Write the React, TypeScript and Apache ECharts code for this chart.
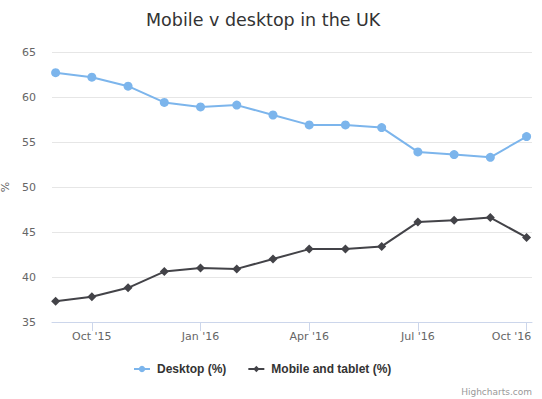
import React, { useEffect, useRef } from "react";
import * as echarts from "echarts";

const months = [
  "Sep '15", "Oct '15", "Nov '15", "Dec '15", "Jan '16", "Feb '16", "Mar '16",
  "Apr '16", "May '16", "Jun '16", "Jul '16", "Aug '16", "Sep '16", "Oct '16",
];
const desktop = [62.7, 62.2, 61.2, 59.4, 58.9, 59.1, 58.0, 56.9, 56.9, 56.6, 53.9, 53.6, 53.3, 55.6];
const mobile = [37.3, 37.8, 38.8, 40.6, 41.0, 40.9, 42.0, 43.1, 43.1, 43.4, 46.1, 46.3, 46.6, 44.4];
const xTickIndices = [1, 4, 7, 10, 13];
const yTicks = { min: 35, max: 65, interval: 5 };

const FONT = "'DejaVu Sans', 'Lucida Grande', Verdana, sans-serif";
const LEGEND_FONT = "'Liberation Sans', Arial, sans-serif";

export default function App() {
  const ref = useRef<HTMLDivElement>(null);
  useEffect(() => {
    if (!ref.current) return;
    document.body.style.margin = "0";
    document.body.style.overflow = "hidden";
    const chart = echarts.init(ref.current, null, { renderer: "svg" });
    const lastIdx = months.length - 1;
    chart.setOption({
      animation: false,
      backgroundColor: "#ffffff",
      textStyle: { fontFamily: FONT },
      title: {
        text: "Mobile v desktop in the UK",
        left: 141,
        top: 6,
        textStyle: { fontSize: 17.5, fontWeight: "normal", color: "#333333", fontFamily: FONT },
      },
      grid: {
        left: 52,
        right: 10,
        top: 52,
        bottom: 77,
        containLabel: false,
        outerBoundsMode: "none",
      },
      xAxis: {
        type: "value",
        min: -0.1,
        max: 13.15,
        splitLine: { show: false },
        axisLine: { show: true, lineStyle: { color: "#ccd6eb", width: 1 } },
        axisTick: {
          show: true,
          customValues: xTickIndices,
          length: 9,
          lineStyle: { color: "#ccd6eb" },
        },
        axisLabel: {
          customValues: xTickIndices,
          formatter: (v: number) => {
            const i = Math.round(v);
            const s = months[i] ?? "";
            return i === lastIdx ? "{last|" + s + "}" : s;
          },
          rich: {
            last: { color: "#666666", fontSize: 11, fontFamily: FONT, padding: [0, 30, 0, 0] },
          },
          color: "#666666",
          fontSize: 11,
          margin: 9,
          fontFamily: FONT,
        },
      },
      yAxis: {
        type: "value",
        min: yTicks.min,
        max: yTicks.max,
        interval: yTicks.interval,
        name: "%",
        nameLocation: "middle",
        nameGap: 37,
        nameTextStyle: { color: "#666666", fontSize: 11, fontFamily: FONT },
        axisLine: { show: false },
        axisTick: { show: false },
        splitLine: { lineStyle: { color: "#e6e6e6", width: 1 } },
        axisLabel: { color: "#666666", fontSize: 11, margin: 16, fontFamily: FONT },
      },
      legend: {
        top: 358,
        left: 128,
        itemWidth: 16,
        itemHeight: 8,
        itemGap: 21,
        textStyle: {
          fontSize: 12,
          fontWeight: "bold",
          color: "#333333",
          fontFamily: LEGEND_FONT,
          padding: [0, 0, 0, 2],
        },
        data: ["Desktop (%)", "Mobile and tablet (%)"],
      },
      graphic: [
        {
          type: "text",
          right: 10,
          top: 387,
          style: { text: "Highcharts.com", fill: "#999999", fontSize: 9, fontFamily: FONT },
        },
      ],
      series: [
        {
          name: "Desktop (%)",
          type: "line",
          data: desktop.map((v, i) => [i, v]),
          color: "#7cb5ec",
          lineStyle: { width: 2, color: "#7cb5ec" },
          symbol: "circle",
          symbolSize: 9,
          itemStyle: { color: "#7cb5ec" },
        },
        {
          name: "Mobile and tablet (%)",
          type: "line",
          data: mobile.map((v, i) => [i, v]),
          color: "#434348",
          lineStyle: { width: 2, color: "#434348" },
          symbol: "diamond",
          symbolSize: 9,
          itemStyle: { color: "#434348" },
        },
      ],
    });
    return () => chart.dispose();
  }, []);
  return (
    <div
      ref={ref}
      style={{ width: 542, height: 399, position: "fixed", left: 0, top: 0 }}
    />
  );
}
